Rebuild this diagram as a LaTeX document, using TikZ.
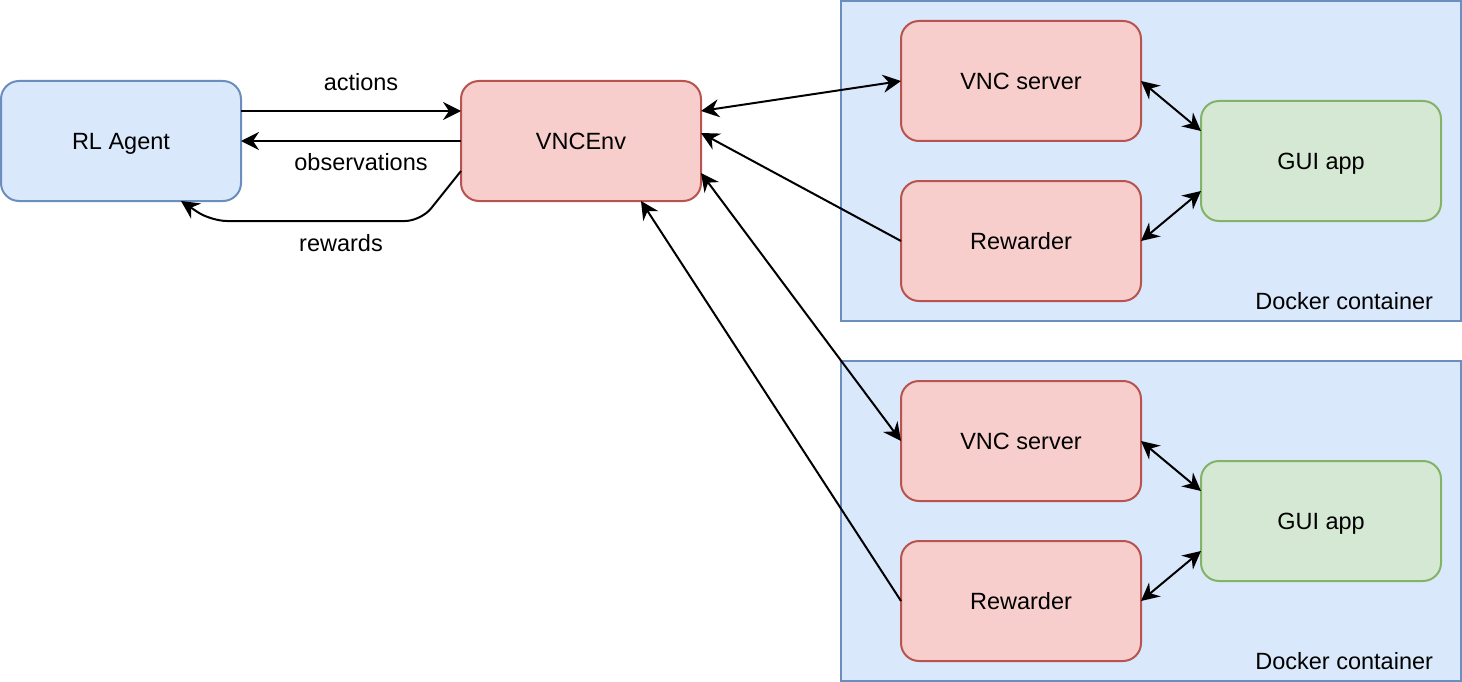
\documentclass[tikz,border=0pt]{standalone}
\usepackage{fontspec}
\setmainfont{Liberation Sans}
\usetikzlibrary{arrows.meta}
\definecolor{bluefill}{HTML}{DAE8FC}
\definecolor{bluedraw}{HTML}{6C8EBF}
\definecolor{redfill}{HTML}{F8CECC}
\definecolor{reddraw}{HTML}{B85450}
\definecolor{greenfill}{HTML}{D5E8D4}
\definecolor{greendraw}{HTML}{82B366}
\begin{document}
\begin{tikzpicture}[x=1pt,y=-1pt,
  font=\fontsize{23.5}{28}\selectfont,
  every node/.style={inner sep=0pt,outer sep=0pt,text height=16.8pt,text depth=0pt},
  box/.style={draw,line width=2pt,rounded corners=18pt,minimum width=240pt,minimum height=120pt},
  bluebox/.style={box,fill=bluefill,draw=bluedraw},
  redbox/.style={box,fill=redfill,draw=reddraw},
  greenbox/.style={box,fill=greenfill,draw=greendraw},
  container/.style={draw=bluedraw,fill=bluefill,line width=2pt,minimum width=620pt,minimum height=320pt,text height=0pt},
  conn/.style={line width=2pt,black},
  >={Stealth[length=18pt,width=18pt,inset=6pt]}
]
\useasboundingbox (0,0) rectangle (1462,682);
% containers
\node[container] (c1) at (1151,161) {};
\node[container] (c2) at (1151,521) {};
\node[anchor=east] (c1lab) at (1433,301.5) {Docker container};
\node[anchor=east] (c2lab) at (1433,661.5) {Docker container};
% nodes
\node[bluebox] (agent) at (121,141) {RL Agent};
\node[redbox] (env) at (581,141) {VNCEnv};
\node[redbox] (vnc1) at (1021,81) {VNC server};
\node[redbox] (rew1) at (1021,241) {Rewarder};
\node[greenbox] (gui1) at (1321,161) {GUI app};
\node[redbox] (vnc2) at (1021,441) {VNC server};
\node[redbox] (rew2) at (1021,601) {Rewarder};
\node[greenbox] (gui2) at (1321,521) {GUI app};
% agent <-> env
\draw[conn,->] ([yshift=30pt]agent.east) -- ([yshift=30pt]env.west);
\node (lact) at (361,82) {actions};
\draw[conn,->] (env.west) -- (agent.east);
\node (lobs) at (361,162) {observations};
\coordinate (rw1) at (421,221);
\coordinate (rw2) at (211,221);
\draw[conn,->,rounded corners=16pt] ([yshift=-30pt]env.west) -- (rw1) -- (rw2) -- ([xshift=60pt]agent.south);
\node (lrew) at (341,243) {rewards};
% env <-> containers
\draw[conn,<->] ([yshift=30pt]env.east) -- (vnc1.west);
\draw[conn,->] (rew1.west) -- ([yshift=8pt]env.east);
\draw[conn,<->] ([yshift=-32pt]env.east) -- (vnc2.west);
\draw[conn,->] (rew2.west) -- ([xshift=60pt]env.south);
% inside containers
\draw[conn,<->] (vnc1.east) -- ([yshift=30pt]gui1.west);
\draw[conn,<->] (rew1.east) -- ([yshift=-30pt]gui1.west);
\draw[conn,<->] (vnc2.east) -- ([yshift=30pt]gui2.west);
\draw[conn,<->] (rew2.east) -- ([yshift=-30pt]gui2.west);
\end{tikzpicture}
\end{document}
